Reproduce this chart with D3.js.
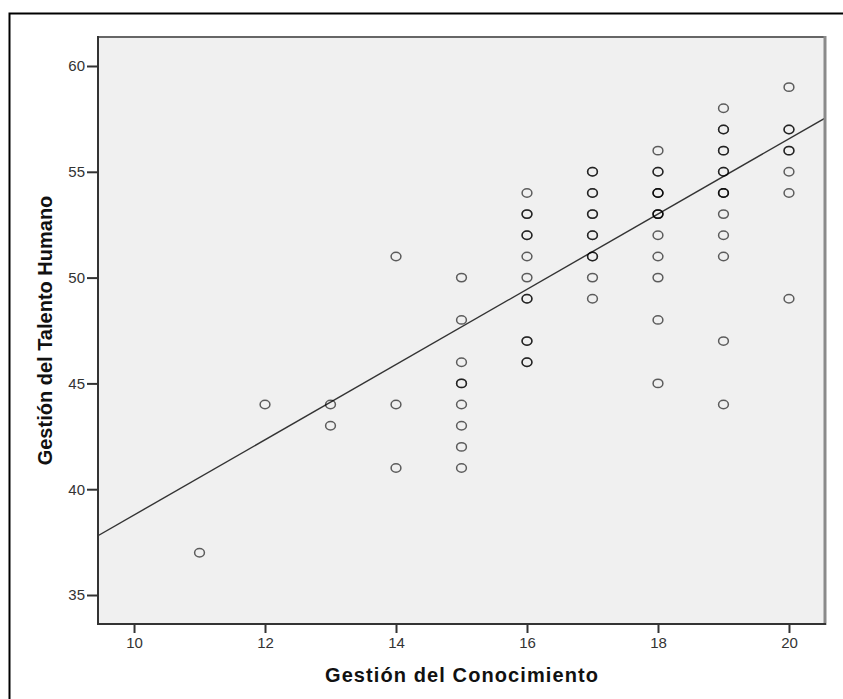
<!DOCTYPE html>
<html>
<head>
<meta charset="utf-8">
<script src="https://cdn.jsdelivr.net/npm/d3@7/dist/d3.min.js"></script>
<style>
  html, body { margin: 0; padding: 0; background: #fff; }
  svg { display: block; }
</style>
</head>
<body>
<script>
// Gestión del Conocimiento (x) and Gestión del Talento Humano (y); repeated pairs = overlapping cases
const gcValues = [
  11,
  12,
  13, 13,
  14, 14, 14,
  15, 15, 15, 15, 15, 15, 15, 15, 15,
  16, 16, 16, 16, 16, 16, 16, 16, 16, 16, 16, 16, 16,
  17, 17, 17, 17, 17, 17, 17, 17, 17, 17, 17, 17,
  18, 18, 18, 18, 18, 18, 18, 18, 18, 18, 18, 18, 18, 18,
  19, 19, 19, 19, 19, 19, 19, 19, 19, 19, 19, 19, 19, 19, 19,
  20, 20, 20, 20, 20, 20, 20, 20
];
const gthValues = [
  37,
  44,
  44, 43,
  51, 44, 41,
  50, 48, 46, 45, 45, 44, 43, 42, 41,
  54, 53, 53, 52, 52, 51, 50, 49, 49, 47, 47, 46, 46,
  55, 55, 54, 54, 53, 53, 52, 52, 51, 51, 50, 49,
  56, 55, 55, 54, 54, 54, 53, 53, 53, 52, 51, 50, 48, 45,
  58, 57, 57, 56, 56, 55, 55, 54, 54, 54, 53, 52, 51, 47, 44,
  59, 57, 57, 56, 56, 55, 54, 49
];
const xTicks = [10, 12, 14, 16, 18, 20];
const yTicks = [35, 40, 45, 50, 55, 60];
const xDomain = [9.45, 20.55];
const yDomain = [33.63, 61.37];
// fitted line: y = intercept + slope * x
const fitIntercept = 21.0;
const fitSlope = 1.778;
const xTitle = "Gestión del Conocimiento";
const yTitle = "Gestión del Talento Humano";

const W = 843, H = 699;
const plot = { left: 98, right: 825, top: 37, bottom: 624 };

const svg = d3.select("body").append("svg").attr("width", W).attr("height", H);

// outer frame
svg.append("rect")
  .attr("x", 9.5).attr("y", 13.5).attr("width", 900).attr("height", 800)
  .attr("fill", "none").attr("stroke", "#000").attr("stroke-width", 2);

const x = d3.scaleLinear().domain(xDomain).range([plot.left, plot.right]);
const y = d3.scaleLinear().domain(yDomain).range([plot.bottom, plot.top]);

// plot background
svg.append("rect")
  .attr("x", plot.left).attr("y", plot.top)
  .attr("width", plot.right - plot.left).attr("height", plot.bottom - plot.top)
  .attr("fill", "#f0f0f0");

svg.append("clipPath").attr("id", "clip").append("rect")
  .attr("x", plot.left).attr("y", plot.top)
  .attr("width", plot.right - plot.left).attr("height", plot.bottom - plot.top);

// fit line
const lineData = xDomain.map(v => [v, fitIntercept + fitSlope * v]);
svg.append("path")
  .attr("clip-path", "url(#clip)")
  .attr("d", d3.line().x(d => x(d[0])).y(d => y(d[1]))(lineData))
  .attr("fill", "none").attr("stroke", "#333").attr("stroke-width", 1.4);

// points
const pts = gcValues.map((v, i) => [v, gthValues[i]]);
svg.append("g").selectAll("ellipse").data(pts).enter().append("ellipse")
  .attr("cx", d => x(d[0])).attr("cy", d => y(d[1]))
  .attr("rx", 4.9).attr("ry", 4.2)
  .attr("fill", "none").attr("stroke", "#000")
  .attr("stroke-opacity", 0.62).attr("stroke-width", 1.5);

// borders
svg.append("line").attr("x1", plot.left).attr("x2", plot.right).attr("y1", plot.top).attr("y2", plot.top)
  .attr("stroke", "#666").attr("stroke-width", 2);
svg.append("line").attr("x1", plot.right).attr("x2", plot.right).attr("y1", plot.top - 1).attr("y2", plot.bottom + 1)
  .attr("stroke", "#8a8a8a").attr("stroke-width", 3);
svg.append("line").attr("x1", plot.left).attr("x2", plot.left).attr("y1", plot.top - 1).attr("y2", plot.bottom + 1)
  .attr("stroke", "#333").attr("stroke-width", 2);
svg.append("line").attr("x1", plot.left - 1).attr("x2", plot.right + 1).attr("y1", plot.bottom).attr("y2", plot.bottom)
  .attr("stroke", "#333").attr("stroke-width", 2);

// axes
const xAxis = svg.append("g").attr("transform", `translate(0,${plot.bottom + 1})`)
  .call(d3.axisBottom(x).tickValues(xTicks).tickSize(8).tickPadding(4).tickFormat(d3.format("d")));
const yAxis = svg.append("g").attr("transform", `translate(${plot.left - 1},0)`)
  .call(d3.axisLeft(y).tickValues(yTicks).tickSize(10).tickPadding(2).tickFormat(d3.format("d")));
[xAxis, yAxis].forEach(g => {
  g.select(".domain").remove();
  g.selectAll(".tick line").attr("stroke", "#333").attr("stroke-width", 2);
  g.selectAll(".tick text").attr("fill", "#333")
    .style("font-family", "'Liberation Sans', Arial, sans-serif").style("font-size", "15px");
});

// titles
svg.append("text")
  .attr("x", (plot.left + plot.right) / 2).attr("y", 681.5)
  .attr("text-anchor", "middle")
  .attr("textLength", 273).attr("lengthAdjust", "spacing")
  .style("font-family", "'Liberation Sans', Arial, sans-serif")
  .style("font-weight", "bold").style("font-size", "20px").attr("fill", "#111")
  .text(xTitle);
svg.append("text")
  .attr("transform", `translate(52,${(plot.top + plot.bottom) / 2}) rotate(-90)`)
  .attr("text-anchor", "middle")
  .style("font-family", "'Liberation Sans', Arial, sans-serif")
  .style("font-weight", "bold").style("font-size", "20px").attr("fill", "#111")
  .text(yTitle);
</script>
</body>
</html>
